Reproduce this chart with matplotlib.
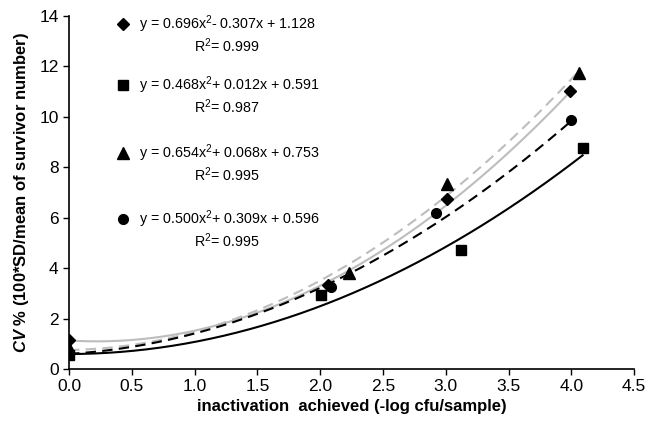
import numpy as np
import matplotlib
matplotlib.use("Agg")
import matplotlib.pyplot as plt

plt.rcParams['font.family'] = ['Liberation Sans', 'DejaVu Sans']
plt.rcParams['mathtext.fontset'] = 'custom'
plt.rcParams['mathtext.rm'] = 'Liberation Sans'
plt.rcParams['mathtext.it'] = 'Liberation Sans:italic:bold'
plt.rcParams['mathtext.bf'] = 'Liberation Sans:bold'

# data
x_diamond = [0.0, 2.06, 3.01, 3.99]
y_diamond = [1.15, 3.33, 6.75, 11.04]
x_square = [0.0, 2.01, 3.12, 4.09]
y_square = [0.55, 2.94, 4.72, 8.76]
x_triangle = [0.0, 2.23, 3.01, 4.06]
y_triangle = [0.82, 3.80, 7.34, 11.75]
x_circle = [0.0, 2.09, 2.92, 4.00]
y_circle = [0.60, 3.23, 6.20, 9.88]

# quadratic fits (a, b, c) as printed on the chart
fit_diamond = [0.696, -0.307, 1.128]
fit_square = [0.468, 0.012, 0.591]
fit_triangle = [0.654, 0.068, 0.753]
fit_circle = [0.500, 0.309, 0.596]

eq_labels = ["y = 0.696x$^2$- 0.307x + 1.128",
             "y = 0.468x$^2$+ 0.012x + 0.591",
             "y = 0.654x$^2$+ 0.068x + 0.753",
             "y = 0.500x$^2$+ 0.309x + 0.596"]
r2_labels = ["R$^2$= 0.999", "R$^2$= 0.987", "R$^2$= 0.995", "R$^2$= 0.995"]

series = [
    (x_diamond, y_diamond, fit_diamond, 'D', 6.0, '#bdbdbd', '-'),
    (x_square, y_square, fit_square, 's', 7.5, 'black', '-'),
    (x_triangle, y_triangle, fit_triangle, '^', 8.0, '#bdbdbd', (0, (5, 3))),
    (x_circle, y_circle, fit_circle, 'o', 7.0, 'black', (0, (5, 3))),
]

fig = plt.figure(figsize=(6.51, 4.29), dpi=100)
ax = fig.add_axes([0.106, 0.14, 0.868, 0.823])

for xs, ys, fit, mk, ms, lc, ls in series:
    xx = np.linspace(0, max(xs), 200)
    yy = np.polyval(fit, xx)
    ax.plot(xx, yy, color=lc, linestyle=ls, linewidth=1.5, zorder=2)
    ax.plot(xs, ys, linestyle='none', marker=mk, markersize=ms,
            color='black', zorder=3)

# equation annotations
leg_y = [0.977, 0.805, 0.612, 0.425]
for (xs, ys, fit, mk, ms, lc, ls), eq, r2, yy in zip(series, eq_labels, r2_labels, leg_y):
    ax.plot([0.095], [yy], transform=ax.transAxes, marker=mk, markersize=ms,
            color='black', linestyle='none', clip_on=False)
    ax.text(0.124, yy, eq, transform=ax.transAxes, fontsize=10.3,
            va='center', ha='left')
    ax.text(0.28, yy - 0.061, r2, transform=ax.transAxes, fontsize=10.3,
            va='center', ha='center')

ax.set_xlim(0, 4.5)
ax.set_ylim(0, 14)
ax.set_xticks(np.arange(0, 4.51, 0.5))
ax.set_xticklabels(["%.1f" % v for v in np.arange(0, 4.51, 0.5)])
ax.set_yticks(np.arange(0, 15, 2))
ax.tick_params(labelsize=12.5, direction='out', length=4, width=1)
ax.spines['top'].set_visible(False)
ax.spines['right'].set_visible(False)
ax.spines['left'].set_linewidth(1.2)
ax.spines['bottom'].set_linewidth(1.2)

ax.set_xlabel("inactivation  achieved (-log cfu/sample)", fontsize=12,
              fontweight='bold', labelpad=3)
ax.set_ylabel(r"$\it{CV}$ % (100*SD/mean of survivor number)", fontsize=12,
              fontweight='bold', labelpad=6)

fig.savefig("out.png", dpi=100)
